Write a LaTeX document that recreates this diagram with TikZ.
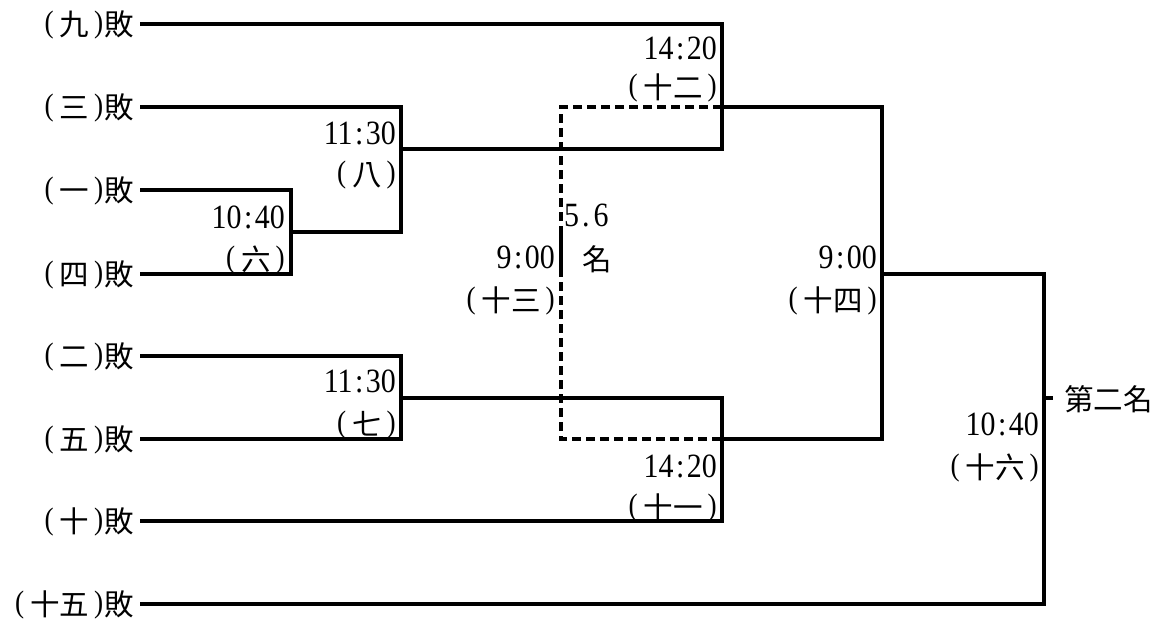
\documentclass[tikz,border=0pt]{standalone}
\usepackage{fontspec}
\newfontfamily\cjkf{Noto Sans CJK TC}
\newfontfamily\numf[FakeStretch=0.88]{Liberation Serif}
\newcommand\cj[1]{{\cjkf\fontsize{29.5}{31}\selectfont #1}}
\newcommand\dg[1]{{\numf\fontsize{34}{36}\selectfont #1}}
\newcommand\pf[1]{\raisebox{3pt}{\numf\fontsize{31}{33}\selectfont #1}}
\newcommand\lp{\pf{(}\hspace{6pt}}
\newcommand\rp{\hspace{5pt}\pf{)}\hspace{1pt}}
\newcommand\tm[2]{\dg{#1\hspace{2.5pt}:\hspace{2.5pt}#2}}
\begin{document}
\begin{tikzpicture}[x=1pt,y=-1pt,
  ln/.style={line width=3.7pt},
  dl/.style={line width=3.2pt,dash pattern=on 9pt off 5pt},
  lab/.style={anchor=base east,inner sep=0pt},
  labw/.style={anchor=base west,inner sep=0pt},
  labc/.style={anchor=base,inner sep=0pt}]
\useasboundingbox (0,0) rectangle (1171,622);
% left labels
\node[lab] (L9)  at (134,35)  {\lp\cj{九}\rp\cj{敗}};
\node[lab] (L3)  at (134,118) {\lp\cj{三}\rp\cj{敗}};
\node[lab] (L1)  at (134,201) {\lp\cj{一}\rp\cj{敗}};
\node[lab] (L4)  at (134,285) {\lp\cj{四}\rp\cj{敗}};
\node[lab] (L2)  at (134,367) {\lp\cj{二}\rp\cj{敗}};
\node[lab] (L5)  at (134,450) {\lp\cj{五}\rp\cj{敗}};
\node[lab] (L10) at (134,532) {\lp\cj{十}\rp\cj{敗}};
\node[lab] (L15) at (134,615) {\lp\cj{十五}\rp\cj{敗}};
% line starts
\coordinate (s9) at (140,24);
\coordinate (s3) at (140,107);
\coordinate (s1) at (140,190);
\coordinate (s4) at (140,274);
\coordinate (s2) at (140,356);
\coordinate (s5) at (140,439);
\coordinate (s10) at (140,521);
\coordinate (s15) at (140,604);
% junctions
\coordinate (m6t) at (291,190); \coordinate (m6b) at (291,274); \coordinate (m6o) at (291,232);
\coordinate (m8t) at (401,107); \coordinate (m8b) at (401,232); \coordinate (m8o) at (401,149);
\coordinate (m12t) at (722,24); \coordinate (m12b) at (722,149); \coordinate (m12o) at (722,107);
\coordinate (m7t) at (401,356); \coordinate (m7b) at (401,439); \coordinate (m7o) at (401,398);
\coordinate (m11t) at (722,398); \coordinate (m11b) at (722,521); \coordinate (m11o) at (722,439);
\coordinate (m13t) at (561,107); \coordinate (m13b) at (561,439);
\coordinate (m13s) at (561,232); \coordinate (m13e) at (561,274);
\coordinate (m14t) at (882,107); \coordinate (m14b) at (882,439); \coordinate (m14o) at (882,274);
\coordinate (m16t) at (1044,274); \coordinate (m16b) at (1044,604); \coordinate (m16o) at (1044,398);
\coordinate (fin) at (1053,398);
% dashed 5.6 bracket
\draw[dl] (m12o) -- (m13t) -- (m13b) -- (m11o);
\draw[ln] (m13s) -- (m13e);
% solid brackets
\draw[ln] (s1) -- (m6t) -- (m6b) -- (s4);
\draw[ln] (m6o) -- (m8b) -- (m8t) -- (s3);
\draw[ln] (m8o) -- (m12b) -- (m12t) -- (s9);
\draw[ln] (s2) -- (m7t) -- (m7b) -- (s5);
\draw[ln] (m7o) -- (m11t) -- (m11b) -- (s10);
\draw[ln] (m12o) -- (m14t) -- (m14b) -- (m11o);
\draw[ln] (m14o) -- (m16t) -- (m16b) -- (s15);
\draw[ln] (m16o) -- (fin);
% match labels
\node[lab] (T12) at (717,59)  {\tm{14}{20}};
\node[lab] (C12) at (717,98)  {\lp\cj{十二}\rp};
\node[lab] (T8)  at (396,144) {\tm{11}{30}};
\node[lab] (C8)  at (396,185) {\lp\cj{八}\rp};
\node[lab] (T6)  at (285,228) {\tm{10}{40}};
\node[lab] (C6)  at (285,270) {\lp\cj{六}\rp};
\node[lab] (T13) at (555,268) {\tm{9}{00}};
\node[lab] (C13) at (555,311) {\lp\cj{十三}\rp};
\node[labw] (P56) at (564,226) {\dg{5\hspace{3pt}.\hspace{4pt}6}};
\node[labc] (PM)  at (597,270) {\cj{名}};
\node[lab] (T14) at (877,268) {\tm{9}{00}};
\node[lab] (C14) at (877,311) {\lp\cj{十四}\rp};
\node[lab] (T7)  at (396,392) {\tm{11}{30}};
\node[lab] (C7)  at (396,435) {\lp\cj{七}\rp};
\node[lab] (T11) at (717,477) {\tm{14}{20}};
\node[lab] (C11) at (717,518) {\lp\cj{十一}\rp};
\node[lab] (T16) at (1039,435) {\tm{10}{40}};
\node[lab] (C16) at (1039,478) {\lp\cj{十六}\rp};
\node[labw] (R2) at (1064,410) {\cj{第二名}};
\end{tikzpicture}
\end{document}
